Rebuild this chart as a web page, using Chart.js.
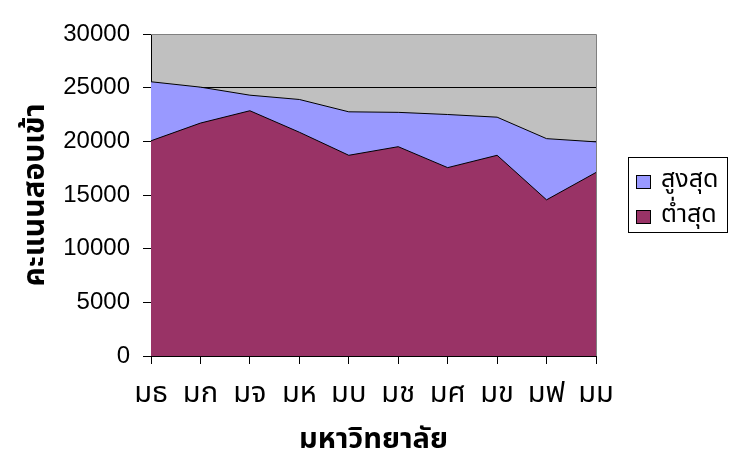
<!DOCTYPE html>
<html><head><meta charset="utf-8">
<script src="https://cdn.jsdelivr.net/npm/chart.js@4"></script>
<style>html,body{margin:0;padding:0;background:#fff}#wrap{width:732px;height:469px}</style>
</head><body><div id="wrap"><canvas id="c" width="732" height="469"></canvas></div>
<script>
const categories = ['มธ','มก','มจ','มห','มบ','มช','มศ','มข','มฟ','มม'];
const highest = [25550, 25050, 24300, 23900, 22750, 22700, 22500, 22250, 20250, 19950];
const lowest  = [20050, 21700, 22850, 20850, 18700, 19500, 17550, 18700, 14550, 17100];
const seriesNames = ['สูงสุด', 'ต่ำสุด'];
const yTicks = [0, 5000, 10000, 15000, 20000, 25000, 30000];
const yTitle = 'คะแนนสอบเข้า';
const xTitle = 'มหาวิทยาลัย';

const THAI = '"Tahoma","Noto Sans Thai","Noto Sans","DejaVu Sans",sans-serif';
const NUM = '"Liberation Sans",Arial,sans-serif';

const bgPlugin = {
  id: 'plotbg',
  beforeDraw(chart) {
    const {ctx, chartArea: a} = chart;
    ctx.save(); ctx.fillStyle = '#C0C0C0';
    ctx.fillRect(a.left, a.top, a.right - a.left, a.bottom - a.top);
    ctx.restore();
  },
  afterDatasetsDraw(chart) {
    const {ctx, chartArea: a} = chart;
    ctx.save(); ctx.strokeStyle = '#808080'; ctx.lineWidth = 1;
    ctx.beginPath();
    ctx.moveTo(a.left, a.top + 0.5); ctx.lineTo(a.right + 0.5, a.top + 0.5); ctx.lineTo(a.right + 0.5, a.bottom);
    ctx.stroke(); ctx.restore();
  }
};
const legendPlugin = {
  id: 'boxlegend',
  afterDraw(chart) {
    const {ctx, chartArea: a} = chart;
    const x0 = a.right + 32, y0 = 157, w = 99, h = 75;
    ctx.save();
    ctx.fillStyle = '#fff'; ctx.fillRect(x0, y0, w, h);
    ctx.strokeStyle = '#000'; ctx.lineWidth = 1;
    ctx.strokeRect(x0 + 0.5, y0 + 0.5, w, h);
    const ds = chart.data.datasets;
    const rows = [ds[0], ds[1]];
    rows.forEach((d, i) => {
      const cy = y0 + 25 + i * 35;
      ctx.fillStyle = d.backgroundColor;
      ctx.fillRect(x0 + 8.5, cy - 6.5, 14, 13);
      ctx.strokeRect(x0 + 8.5, cy - 6.5, 14, 13);
      ctx.fillStyle = '#000';
      ctx.font = '25px ' + THAI;
      ctx.textBaseline = 'middle';
      ctx.fillText(d.label, x0 + 33, cy);
    });
    ctx.restore();
  }
};

new Chart(document.getElementById('c'), {
  type: 'line',
  data: {
    labels: categories,
    datasets: [
      { label: seriesNames[0], data: highest, backgroundColor: '#9999FF', borderColor: '#000', borderWidth: 1, fill: 'origin', pointRadius: 0, tension: 0, order: 2 },
      { label: seriesNames[1], data: lowest, backgroundColor: '#993366', borderColor: '#000', borderWidth: 1, fill: 'origin', pointRadius: 0, tension: 0, order: 1 }
    ]
  },
  options: {
    responsive: false, animation: false,
    layout: { padding: { top: 34, right: 136, left: 0, bottom: 0 } },
    plugins: { legend: { display: false }, tooltip: { enabled: false } },
    scales: {
      x: {
        offset: false,
        grid: { drawOnChartArea: false, drawTicks: true, tickLength: 8, color: '#000', tickColor: '#000' },
        border: { color: '#000', width: 1 },
        ticks: { color: '#000', font: { family: THAI, size: 29 }, padding: 15, maxRotation: 0, autoSkip: false },
        title: { display: true, text: xTitle, color: '#000', font: { family: THAI, size: 29, weight: 'bold' }, padding: { top: 0, bottom: 9 } },
        afterFit(s) { s.height = 113; }
      },
      y: {
        min: 0, max: 30000,
        afterBuildTicks(s) { s.ticks = yTicks.map(v => ({ value: v })); },
        grid: { drawTicks: true, tickLength: 8, color: (c) => c.tick && c.tick.value === 30000 ? 'rgba(0,0,0,0)' : '#000', tickColor: '#000' },
        border: { color: '#000', width: 1 },
        ticks: { color: '#000', font: { family: NUM, size: 24 }, padding: 13, callback: (v) => String(v) },
        title: { display: true, text: yTitle, color: '#000', font: { family: THAI, size: 30, weight: 'bold' }, padding: { top: 20, bottom: 0 } },
        afterFit(s) { s.width = 151; }
      }
    }
  },
  plugins: [bgPlugin, legendPlugin]
});
</script></body></html>
